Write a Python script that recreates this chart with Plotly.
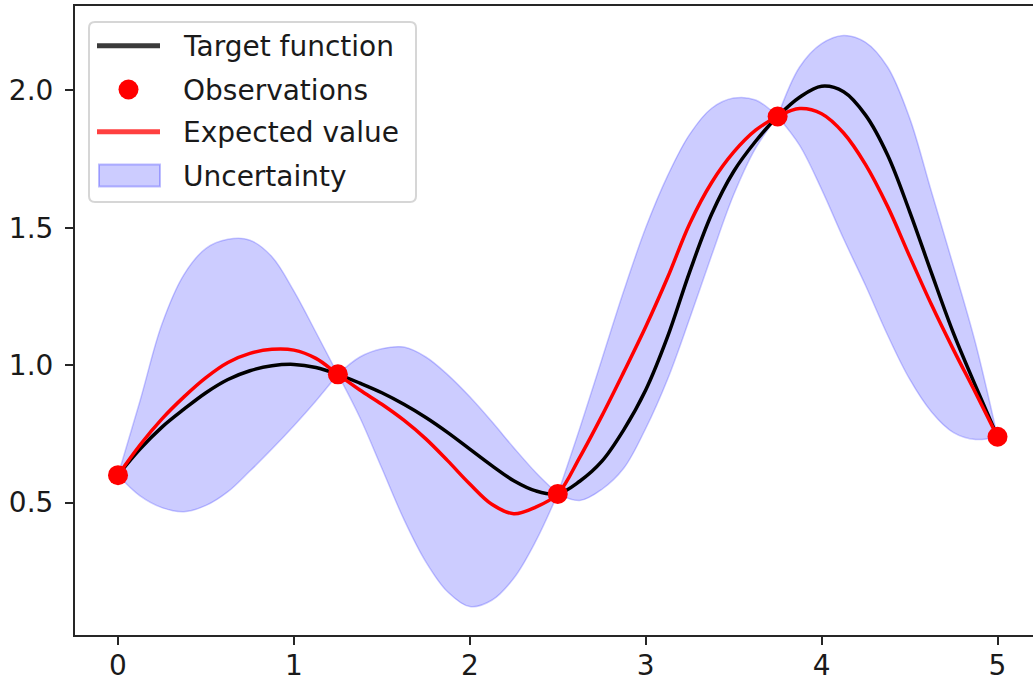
import plotly.graph_objects as go

# ---- data -------------------------------------------------------------
obs_x = [0.0, 1.25, 2.5, 3.75, 5.0]
obs_y = [0.600, 0.967, 0.532, 1.905, 0.740]

# common sampling positions of the curves (step 0.125 from 0 to 5)
grid_x = [0.0, 0.125, 0.25, 0.375, 0.5, 0.625, 0.75, 0.875, 1.0, 1.125,
          1.25, 1.375, 1.5, 1.625, 1.75, 1.875, 2.0, 2.125, 2.25, 2.375,
          2.5, 2.625, 2.75, 2.875, 3.0, 3.125, 3.25, 3.375, 3.5, 3.625,
          3.75, 3.875, 4.0, 4.125, 4.25, 4.375, 4.5, 4.625, 4.75, 4.875, 5.0]

target_y = [0.600, 0.695, 0.775, 0.840, 0.900, 0.948, 0.980, 0.998, 1.003, 0.992,
            0.967, 0.935, 0.900, 0.858, 0.810, 0.755, 0.695, 0.635, 0.580, 0.543,
            0.532, 0.578, 0.650, 0.765, 0.910, 1.105, 1.340, 1.550, 1.705, 1.815,
            1.905, 1.975, 2.015, 1.995, 1.910, 1.765, 1.560, 1.335, 1.116, 0.925,
            0.740]

mean_y = [0.600, 0.710, 0.805, 0.885, 0.955, 1.010, 1.043, 1.058, 1.055, 1.025,
          0.967, 0.910, 0.858, 0.800, 0.732, 0.652, 0.568, 0.494, 0.460, 0.484,
          0.532, 0.665, 0.815, 0.975, 1.140, 1.320, 1.515, 1.665, 1.775, 1.855,
          1.905, 1.934, 1.915, 1.845, 1.730, 1.578, 1.397, 1.220, 1.056, 0.900,
          0.740]

band_upper = [0.600, 0.870, 1.150, 1.330, 1.425, 1.458, 1.455, 1.395, 1.270, 1.120,
              0.967, 1.030, 1.060, 1.066, 1.030, 0.965, 0.885, 0.795, 0.700, 0.610,
              0.532, 0.770, 1.020, 1.270, 1.500, 1.690, 1.840, 1.935, 1.972, 1.965,
              1.905, 2.085, 2.170, 2.200, 2.175, 2.085, 1.900, 1.630, 1.360, 1.080,
              0.740]

band_lower = [0.600, 0.525, 0.482, 0.467, 0.490, 0.540, 0.615, 0.695, 0.780, 0.870,
              0.967, 0.810, 0.625, 0.440, 0.285, 0.175, 0.122, 0.145, 0.225, 0.360,
              0.532, 0.508, 0.548, 0.625, 0.770, 0.950, 1.170, 1.400, 1.620, 1.790,
              1.905, 1.800, 1.640, 1.460, 1.290, 1.110, 0.950, 0.830, 0.755, 0.730,
              0.740]

x_ticks = [0, 1, 2, 3, 4, 5]
y_ticks = [0.5, 1.0, 1.5, 2.0]

legend_labels = ["Target function", "Observations", "Expected value", "Uncertainty"]

# ---- geometry ---------------------------------------------------------
W, H = 1033, 684
M_L, M_R, M_T, M_B = 75, 0, 6, 49
PW, PH = W - M_L - M_R, H - M_T - M_B

BAND_FILL = "rgba(0,0,255,0.2)"
FONT = "DejaVu Sans, Verdana, sans-serif"
AXIS_COL = "#262626"
TEXT_COL = "#1a1a1a"
FS = 28

fig = go.Figure()

# Uncertainty band, filled piecewise between consecutive observations so the
# band pinches to zero width at every observed point.
for a, b in zip(obs_x[:-1], obs_x[1:]):
    idx = [i for i, x in enumerate(grid_x) if a <= x <= b]
    sx = [grid_x[i] for i in idx]
    fig.add_trace(go.Scatter(
        x=sx, y=[band_upper[i] for i in idx], mode="lines",
        line=dict(color=BAND_FILL, width=1.5, shape="spline", smoothing=1.0),
        showlegend=False, hoverinfo="skip"))
    fig.add_trace(go.Scatter(
        x=sx, y=[band_lower[i] for i in idx], mode="lines",
        fill="tonexty", fillcolor=BAND_FILL,
        line=dict(color=BAND_FILL, width=1.5, shape="spline", smoothing=1.0),
        name="Uncertainty", showlegend=False, hoverinfo="skip"))

fig.add_trace(go.Scatter(
    x=grid_x, y=target_y, mode="lines", name="Target function",
    line=dict(color="black", width=3.5, shape="spline", smoothing=1.0),
    showlegend=False))
fig.add_trace(go.Scatter(
    x=grid_x, y=mean_y, mode="lines", name="Expected value",
    line=dict(color="red", width=3.5, shape="spline", smoothing=1.0),
    showlegend=False))
fig.add_trace(go.Scatter(
    x=obs_x, y=obs_y, mode="markers", name="Observations",
    marker=dict(color="red", size=20, line=dict(width=0)),
    showlegend=False, cliponaxis=False))

# ---- legend (framed box in the upper-left corner) ---------------------
def px(xp):
    return (xp - M_L) / PW


def py(yp):
    return (H - M_B - yp) / PH


shapes = []
bx0, bx1, by0, by1, r = 89, 416, 22, 202, 6
path = (f"M{px(bx0 + r)},{py(by0)} L{px(bx1 - r)},{py(by0)} "
        f"Q{px(bx1)},{py(by0)} {px(bx1)},{py(by0 + r)} "
        f"L{px(bx1)},{py(by1 - r)} Q{px(bx1)},{py(by1)} {px(bx1 - r)},{py(by1)} "
        f"L{px(bx0 + r)},{py(by1)} Q{px(bx0)},{py(by1)} {px(bx0)},{py(by1 - r)} "
        f"L{px(bx0)},{py(by0 + r)} Q{px(bx0)},{py(by0)} {px(bx0 + r)},{py(by0)} Z")
shapes.append(dict(type="path", xref="paper", yref="paper", path=path,
                   fillcolor="rgba(255,255,255,0.8)",
                   line=dict(color="#d6d6d6", width=2), layer="above"))

rows = [45.7, 89.5, 131.7, 175.6]
hx0, hx1 = 97, 160
shapes.append(dict(type="line", xref="paper", yref="paper",
                   x0=px(hx0), x1=px(hx1), y0=py(rows[0]), y1=py(rows[0]),
                   line=dict(color="#3a3a3a", width=5), layer="above"))
shapes.append(dict(type="circle", xref="paper", yref="paper",
                   x0=px(118.5), x1=px(138.5), y0=py(rows[1] - 10), y1=py(rows[1] + 10),
                   fillcolor="red", line=dict(width=0), layer="above"))
shapes.append(dict(type="line", xref="paper", yref="paper",
                   x0=px(hx0), x1=px(hx1), y0=py(rows[2]), y1=py(rows[2]),
                   line=dict(color="#ff4040", width=5), layer="above"))
shapes.append(dict(type="rect", xref="paper", yref="paper",
                   x0=px(99), x1=px(160), y0=py(rows[3] - 11), y1=py(rows[3] + 11),
                   fillcolor=BAND_FILL, line=dict(color="rgba(0,0,255,0.25)", width=2),
                   layer="above"))

annotations = []
for label, yr in zip(legend_labels, rows):
    annotations.append(dict(
        text=label, xref="paper", yref="paper", x=px(181), y=py(yr + 1),
        xanchor="left", yanchor="middle", showarrow=False,
        font=dict(family=FONT, size=FS, color=TEXT_COL)))

# ---- layout -----------------------------------------------------------
fig.update_layout(
    width=W, height=H,
    margin=dict(l=M_L, r=M_R, t=M_T, b=M_B, pad=0),
    paper_bgcolor="white", plot_bgcolor="white",
    showlegend=False,
    shapes=shapes, annotations=annotations,
    font=dict(family=FONT, size=FS, color=TEXT_COL),
    xaxis=dict(
        range=[-0.2445, 5.2018], tickvals=x_ticks,
        ticktext=[str(v) for v in x_ticks],
        showgrid=False, zeroline=False,
        showline=True, linecolor=AXIS_COL, linewidth=2, mirror=True,
        ticks="outside", ticklen=8, tickwidth=2, tickcolor=AXIS_COL,
        tickfont=dict(family=FONT, size=FS, color=TEXT_COL),
        ticklabelstandoff=-4,
    ),
    yaxis=dict(
        range=[0.0186, 2.307], tickvals=y_ticks,
        ticktext=[f"{v:.1f}" for v in y_ticks],
        showgrid=False, zeroline=False,
        showline=True, linecolor=AXIS_COL, linewidth=2, mirror=False,
        ticks="outside", ticklen=8, tickwidth=2, tickcolor=AXIS_COL,
        tickfont=dict(family=FONT, size=FS, color=TEXT_COL),
        ticklabelstandoff=6,
    ),
)

fig.write_html("out.html")
